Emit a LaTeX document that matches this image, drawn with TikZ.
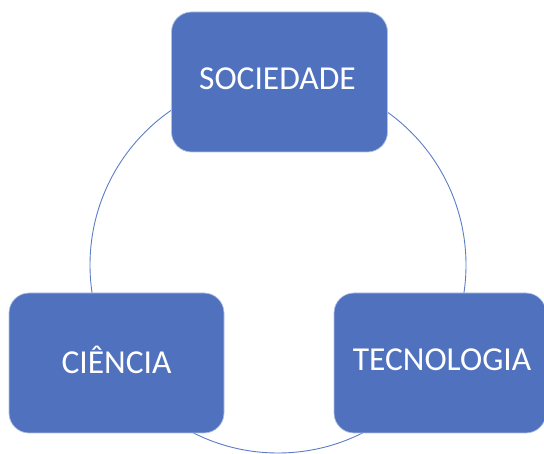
\documentclass[tikz,border=0pt]{standalone}
\usepackage{fontspec}
\setmainfont{Carlito}
\definecolor{boxblue}{RGB}{80,114,190}
\definecolor{ringblue}{RGB}{90,125,200}
\begin{document}
\begin{tikzpicture}[x=1pt,y=-1pt,
  box/.style={draw=white!55!boxblue, line width=0.7pt, fill=boxblue, rounded corners=20pt,
    inner sep=0pt},
  lbl/.style={text=white, font=\fontsize{33.5}{38}\selectfont, inner sep=0pt},
  ring/.style={draw=ringblue, line width=0.9pt, circle, inner sep=0pt}]
\useasboundingbox (0,0) rectangle (544,454);
\node[ring, minimum size=376pt] (cyc) at (278,265) {};
\node[box, minimum width=216pt, minimum height=140pt] (soc) at (279.5,82) {};
\node[box, minimum width=215pt, minimum height=140pt] (cie) at (116.5,363) {};
\node[box, minimum width=212pt, minimum height=140pt] (tec) at (440,363) {};
\node[lbl] (tsoc) at (277.5,79) {SOCIEDADE};
\node[lbl] (tcie) at (116.5,360) {CIÊNCIA};
\node[lbl] (ttec) at (442,360) {TECNOLOGIA};
\end{tikzpicture}
\end{document}
